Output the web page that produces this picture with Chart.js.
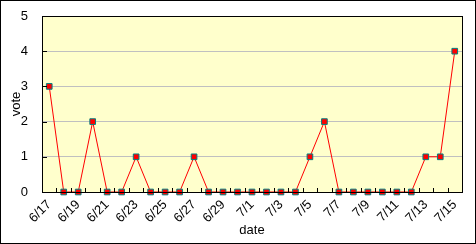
<!DOCTYPE html>
<html>
<head>
<meta charset="utf-8">
<script src="https://cdn.jsdelivr.net/npm/chart.js@4"></script>
<style>
  html, body { margin: 0; padding: 0; background: #fff; }
  #wrap { width: 476px; height: 244px; }
</style>
</head>
<body>
<div id="wrap"><canvas id="c" width="476" height="244"></canvas></div>
<script>
// Daily vote counts, 6/17 – 7/15
const dates = ['6/17','6/18','6/19','6/20','6/21','6/22','6/23','6/24','6/25','6/26',
  '6/27','6/28','6/29','6/30','7/1','7/2','7/3','7/4','7/5','7/6',
  '7/7','7/8','7/9','7/10','7/11','7/12','7/13','7/14','7/15'];
const votes = [3,0,0,2,0,0,1,0,0,0, 1,0,0,0,0,0,0,0,1,2, 0,0,0,0,0,0,1,1,4];
const yTicks = [0,1,2,3,4,5];

const FONT = { family: "'Liberation Sans', Arial, sans-serif", size: 13 };

// yellow plot area, black frame, inward tick marks, outer border
const frame = {
  id: 'frame',
  beforeDraw(chart) {
    const { ctx, chartArea: a } = chart;
    ctx.save();
    ctx.fillStyle = '#fff';
    ctx.fillRect(0, 0, chart.width, chart.height);
    ctx.fillStyle = '#FFFFCC';
    ctx.fillRect(a.left, a.top, a.right - a.left, a.bottom - a.top);
    ctx.restore();
  },
  afterDraw(chart) {
    const { ctx, chartArea: a } = chart;
    const xs = chart.scales.x, ys = chart.scales.y;
    ctx.save();
    ctx.strokeStyle = '#000';
    ctx.lineWidth = 1;
    ctx.beginPath();
    // y ticks (inward)
    yTicks.forEach(v => {
      const y = Math.round(ys.getPixelForValue(v)) + 0.5;
      ctx.moveTo(a.left, y); ctx.lineTo(a.left + 5, y);
    });
    // x ticks at category boundaries (inward)
    const step = xs.getPixelForValue(1) - xs.getPixelForValue(0);
    for (let i = 0; i <= dates.length; i++) {
      const x = Math.round(xs.getPixelForValue(i) - step / 2) + 0.5;
      ctx.moveTo(x, a.bottom); ctx.lineTo(x, a.bottom - 4);
    }
    ctx.stroke();
    ctx.strokeRect(Math.round(a.left) + 0.5, Math.round(a.top) + 0.5,
      Math.round(a.right - a.left), Math.round(a.bottom - a.top));
    ctx.strokeRect(0.5, 0.5, chart.width - 1, chart.height - 1);
    ctx.restore();
  }
};

new Chart(document.getElementById('c'), {
  type: 'line',
  data: {
    labels: dates,
    datasets: [{
      data: votes,
      borderColor: '#FF0000',
      borderWidth: 1,
      backgroundColor: '#FF0000',
      pointStyle: 'rect',
      pointRadius: 4,
      pointBorderWidth: 1,
      pointBorderColor: '#008080',
      pointBackgroundColor: '#FF0000',
      tension: 0,
      clip: false
    }]
  },
  options: {
    responsive: false,
    animation: false,
    layout: { padding: { left: 3, top: 16, right: 14, bottom: 4 } },
    plugins: { legend: { display: false }, tooltip: { enabled: false } },
    scales: {
      x: {
        offset: true,
        grid: { display: false, drawTicks: false },
        border: { display: false },
        afterFit(s) { s.height = 48; },
        ticks: {
          autoSkip: false,
          minRotation: 45, maxRotation: 45,
          padding: 5,
          color: '#000',
          font: FONT,
          callback(v, i) { return i % 2 === 0 ? dates[i] : ''; }
        },
        title: { display: true, text: 'date', color: '#000', font: FONT, padding: { top: 0, bottom: 2 } }
      },
      y: {
        min: 0, max: 5,
        afterFit(s) { s.width = 39; },
        afterBuildTicks(s) { s.ticks = yTicks.map(v => ({ value: v })); },
        // invisible tick length keeps the labels off the axis without adding top padding
        grid: { color: '#C0C0C0', drawTicks: true, tickLength: 14, tickColor: 'rgba(0,0,0,0)' },
        border: { display: false },
        ticks: { padding: 0, color: '#000', font: FONT },
        title: { display: true, text: 'vote', color: '#000', font: FONT, padding: { top: 6, bottom: 0 } }
      }
    }
  },
  plugins: [frame]
});
</script>
</body>
</html>
